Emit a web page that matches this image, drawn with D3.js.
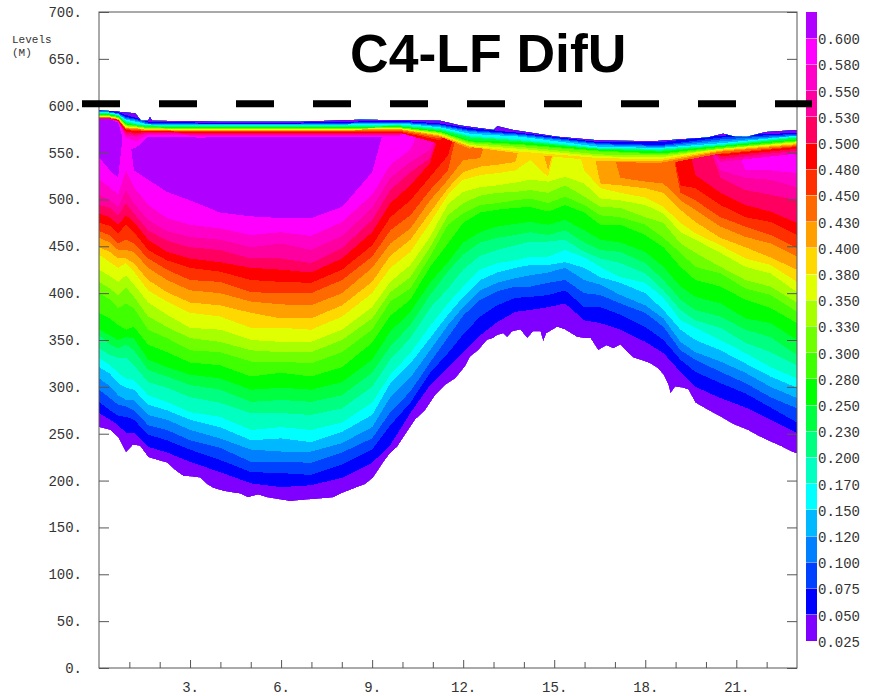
<!DOCTYPE html>
<html>
<head>
<meta charset="utf-8">
<script src="https://cdn.jsdelivr.net/npm/d3@7"></script>
<style>
body { margin: 0; background: #fff; }
text { font-family: "Liberation Mono", monospace; fill: #333; }
</style>
</head>
<body>
<div id="chart"></div>
<script>
// contour classes, lowest first
var thresholds = ["0.025","0.050","0.075","0.100","0.120","0.150","0.170","0.200","0.230","0.250","0.280","0.300",
                  "0.330","0.350","0.380","0.400","0.430","0.450","0.480","0.500","0.530","0.550","0.580","0.600"];
var bandColors = ["#8000ff","#0000ff","#0040ff","#0080ff","#00b8ff","#00ffff","#00ffc0","#00ff80","#00ff40","#00ff00","#40ff00","#70ff00",
                  "#a8ff00","#e0ff00","#ffd800","#ffa000","#ff6a00","#ff3000","#ff0000","#ff0060","#ff00a0","#ff00c8","#ff00ff","#b000ff"];
var yTicks = [0,50,100,150,200,250,300,350,400,450,500,550,600,650,700];
var xMajor = [3,6,9,12,15,18,21];
var xMinor = [1,2,4,5,7,8,10,11,13,14,16,17,19,20,22];
var refLevel = 602;

// top of the data (water surface)
var surfaceDays = [0,.53,.76,1.19,1.32,1.38,1.62,1.68,1.75,3.99,6.63,8.61,11.24,11.9,13,13.13,13.65,15.1,16.52,18.27,20.05,20.57,20.97,21.36,22,23];
var surfaceLevels = [595,594,593,592,587,584,584,588,584,583,583,585,584,579,574,578,574,567,563,562,566,570,567,567,572,574];

// bottom of the data
var edgeDays = [0,.36,.63,.89,1.12,1.35,1.62,1.91,2.24,2.51,2.77,3.07,3.33,3.56,3.76,4.09,4.42,4.65,4.91,5.24,5.54,5.9,6.3,6.63,7.02,7.39,7.72,8.04,8.28,8.51,8.77,9.03,9.2,9.36,9.59,9.83,10.09,10.42,10.75,11.08,11.41,11.74,12.07,12.23,12.5,12.79,12.99,13.12,13.32,13.45,13.62,13.88,14.11,14.31,14.54,14.64,14.74,15.1,15.36,15.76,16.02,16.19,16.45,16.72,16.95,17.18,17.41,17.61,17.9,18.16,18.4,18.6,18.76,18.83,18.99,19.22,19.42,19.65,20.08,20.48,20.9,21.37,21.7,22.02,22.45,22.88,23];
var edgeLevels = [257,254,246,230,238,237,225,222,219,211,205,204,203,196,192,189,187,186,182,185,182,180,178,179,180,181,182,187,190,193,196,203,211,219,229,236,249,265,275,291,302,309,322,332,339,350,352,355,357,353,359,361,352,359,359,348,357,364,361,353,352,352,339,344,341,345,337,331,328,325,320,313,302,293,300,299,297,283,275,268,260,254,248,243,237,230,229];

// lower limit of each class at these days
var levelDays = [0,.36,.63,.89,1.15,1.62,2.24,3,3.99,5.01,6,6.99,8.01,9,9.6,10.26,10.91,11.5,12,12.56,13.12,13.72,14.21,14.8,15.36,15.99,16.52,17.18,18,18.6,19.16,19.65,20.48,21.3,22.13,23];
var low050 = [272,265,259,251,251,236,230,220,209,197,193,195,203,219,238,272,302,321,337,355,369,380,382,385,389,371,368,361,348,336,316,300,288,278,265,251];
var low075 = [284,275,269,268,265,249,243,233,222,209,208,206,217,233,259,283,315,336,356,375,387,395,396,398,403,385,385,377,364,350,329,316,304,293,278,262];
var low100 = [297,288,281,279,275,259,254,243,235,220,220,219,230,245,273,295,326,353,376,393,402,407,407,411,414,400,398,389,379,364,339,329,316,304,289,277];
var low120 = [309,301,291,286,286,270,265,254,245,233,231,231,240,257,289,310,339,366,385,403,411,416,419,422,427,414,409,398,387,373,348,337,327,315,300,288];
var low150 = [321,314,304,299,297,281,275,265,257,243,245,241,252,270,304,325,352,377,396,414,422,427,430,430,433,427,417,411,400,382,361,350,339,325,311,299];
var low170 = [331,323,315,309,307,291,284,273,268,254,257,254,262,283,313,336,365,389,407,425,432,435,439,439,446,438,428,417,411,395,371,363,350,336,321,309];
var low200 = [341,334,331,331,323,305,299,289,283,272,272,270,277,300,329,352,384,405,425,440,446,451,455,455,457,444,437,432,421,403,382,371,363,347,337,323];
var low230 = [355,345,341,345,339,318,311,302,297,284,286,284,291,315,343,366,398,423,441,454,459,462,465,462,467,454,446,444,432,414,393,382,375,361,353,334];
var low250 = [361,355,350,353,352,329,321,313,309,297,299,297,305,329,359,380,411,433,454,465,471,474,476,473,478,467,457,454,444,428,407,396,389,373,368,350];
var low280 = [379,373,366,361,364,345,337,326,323,311,315,311,321,347,376,393,428,453,475,486,489,491,492,487,494,486,473,473,462,449,428,414,407,393,384,368];
var low300 = [400,393,384,389,384,361,352,339,337,327,327,325,337,361,391,405,439,473,485,494,496,499,501,496,503,494,483,481,473,459,443,428,421,405,398,380];
var low330 = [412,405,398,406,396,375,364,352,348,339,337,337,350,373,401,417,449,483,496,504,507,508,510,507,515,503,492,491,481,475,453,443,428,414,407,390];
var low350 = [425,418,412,419,409,390,377,363,361,350,348,348,361,385,412,430,460,495,508,513,515,518,521,519,524,517,501,499,494,485,465,457,443,428,421,401];
var low380 = [441,433,427,432,423,403,391,379,375,363,363,361,375,400,427,444,475,505,521,526,528,531,542,524,null,531,512,507,502,492,475,464,451,437,430,412];
var low400 = [449,444,437,437,432,414,401,390,387,379,373,373,387,412,440,457,486,512,529,535,537,540,null,531,null,null,517,515,512,507,489,476,459,449,438,425];
var low430 = [459,454,446,446,444,427,414,403,400,391,388,387,400,427,453,469,499,521,542,544,null,null,null,null,null,null,null,523,519,517,499,489,471,460,453,439];
var low450 = [466,462,453,457,453,437,425,414,412,401,400,400,414,439,467,483,510,531,null,null,null,null,null,null,null,null,null,null,null,null,507,499,481,471,462,448];
var low480 = [475,472,464,473,465,446,435,427,423,414,412,411,425,451,481,499,524,547,null,null,null,null,null,null,null,null,null,null,null,null,515,512,494,481,476,462];
var low500 = [485,481,473,483,476,457,444,437,433,427,425,422,437,465,496,515,539,null,null,null,null,null,null,null,null,null,null,null,null,null,null,526,507,494,487,475];
var low530 = [494,491,483,496,485,467,456,449,446,437,437,432,448,478,510,529,544,null,null,null,null,null,null,null,null,null,null,null,null,null,null,null,523,510,505,499];
var low550 = [505,499,492,510,496,478,466,460,457,449,453,446,461,491,523,540,553,null,null,null,null,null,null,null,null,null,null,null,null,null,null,null,531,523,521,513];
var low580 = [521,513,505,531,513,494,480,473,469,462,465,461,476,505,537,553,null,null,null,null,null,null,null,null,null,null,null,null,null,null,null,null,null,531,531,528];
var low600 = [545,531,523,null,531,521,508,499,486,482,480,480,492,529,null,null,null,null,null,null,null,null,null,null,null,null,null,null,null,null,null,null,null,null,null,null];

// upper limit of each class at these days (thin layers under the surface), 600 = class not there
var topDays = [0,.3,.63,.89,1.22,1.62,3.3,6.63,9.92,11.24,12.23,13.88,16.52,18.5,20.48,23];
var top050 = [595,595,593,590,587,583,582,582,584,581,576,571,561,561,568,571];
var top075 = [594,594,592,588,586,582,581,581,583,580,574,570,560,558,566,570];
var top100 = [594,594,592,587,585,581,580,580,582,579,573,569,559,557,564,569];
var top120 = [593,593,591,586,584,580,580,580,582,578,572,568,558,556,562,568];
var top150 = [593,593,591,585,583,580,579,579,581,577,570,567,556,555,560,568];
var top170 = [592,592,590,584,581,579,579,579,580,576,568,564,555,554,559,567];
var top200 = [592,592,590,583,580,579,578,578,579,575,567,563,554,553,558,566];
var top230 = [591,591,589,582,580,578,577,577,578,574,566,562,554,552,557,566];
var top250 = [591,591,589,581,579,577,577,577,578,573,563,561,553,551,557,564];
var top280 = [590,590,588,580,579,577,576,576,577,572,562,559,552,549,556,563];
var top300 = [590,590,588,580,578,576,576,576,577,572,561,558,551,548,555,562];
var top330 = [589,589,587,579,578,576,575,575,576,571,560,556,548,547,554,562];
var top350 = [589,589,587,578,577,575,575,575,576,570,558,554,546,545,554,561];
var top380 = [588,588,586,577,576,575,574,574,575,569,557,551,544,543,553,560];
var top400 = [588,588,586,576,576,574,574,574,575,568,556,549,541,541,552,559];
var top430 = [588,588,585,576,575,574,573,573,574,567,554,600,540,539,551,558];
var top450 = [587,587,585,575,574,573,573,573,573,565,600,600,600,537,549,557];
var top480 = [587,587,585,574,573,573,572,572,572,563,600,600,600,600,548,556];
var top500 = [587,587,584,572,571,572,571,571,571,559,600,600,600,600,546,554];
var top530 = [586,586,584,570,569,571,570,570,570,600,600,600,600,600,543,552];
var top550 = [586,586,583,568,567,570,569,569,569,600,600,600,600,600,540,549];
var top580 = [586,586,583,566,562,569,568,568,568,600,600,600,600,600,600,546];
var top600 = [586,586,582,553,555,567,566,567,566,600,600,600,600,600,600,600];

var lowRows = [low050,low075,low100,low120,low150,low170,low200,low230,low250,low280,low300,low330,low350,low380,low400,low430,low450,low480,low500,low530,low550,low580,low600];
var topRows = [top050,top075,top100,top120,top150,top170,top200,top230,top250,top280,top300,top330,top350,top380,top400,top430,top450,top480,top500,top530,top550,top580,top600];

var svgwidth = 876, svgheight = 696;
var margin = {"top":12,"right":797,"left":99,"bottom":668};

var svg = d3.select("#chart").append("svg")
    .attr("width", svgwidth)
    .attr("height", svgheight)
    .style("display", "block");

var x = d3.scaleLinear().domain([0, 23]).range([margin.left, margin.right]);
var y = d3.scaleLinear().domain([0, 700]).range([margin.bottom, margin.top]);

// data outline, everything else is clipped to it
var outline = surfaceDays.map(function(d, i) { return [d, surfaceLevels[i]]; })
    .concat(edgeDays.map(function(d, i) { return [d, edgeLevels[i]]; }).reverse());
var outlinePath = d3.line().x(function(d) { return x(d[0]); }).y(function(d) { return y(d[1]); });

svg.append("clipPath").attr("id", "dataClip")
    .append("path").attr("d", outlinePath(outline) + "Z");

var plot = svg.append("g").attr("clip-path", "url(#dataClip)").style("shape-rendering", "crispEdges");

plot.append("path").attr("d", outlinePath(outline) + "Z").attr("fill", bandColors[0]);

// each class from above the surface down to its lower limit
var lowArea = d3.area()
    .x(function(d) { return x(d.day); })
    .y0(y(600))
    .y1(function(d) { return y(d.level == null ? 600 : d.level); });

lowRows.forEach(function(row, k) {
    plot.append("path")
        .attr("d", lowArea(levelDays.map(function(d, i) { return {day: d, level: row[i]}; })))
        .attr("fill", bandColors[k + 1]);
});

// then the layers above each class, highest class first
var topArea = d3.area()
    .x(function(d) { return x(d.day); })
    .y0(y(620))
    .y1(function(d) { return y(d.level); });

for (var k = topRows.length - 1; k >= 0; k--) {
    var row = topRows[k];
    plot.append("path")
        .attr("d", topArea(topDays.map(function(d, i) { return {day: d, level: row[i]}; })))
        .attr("fill", bandColors[k]);
}

// axes
var frameColor = "#555";
svg.append("rect")
    .attr("x", margin.left).attr("y", margin.top)
    .attr("width", margin.right - margin.left).attr("height", margin.bottom - margin.top)
    .attr("fill", "none").attr("stroke", frameColor);

var yAxis = d3.axisLeft(y).tickValues(yTicks).tickFormat(function(d) { return d + "."; })
    .tickSizeInner(-10).tickSizeOuter(0).tickPadding(17);
var gy = svg.append("g").attr("transform", "translate(" + margin.left + ",0)").call(yAxis);
gy.select(".domain").remove();
gy.selectAll("line").attr("stroke", frameColor);
gy.selectAll("text").style("font-size", "14px");

var yAxisR = d3.axisRight(y).tickValues(yTicks).tickFormat("").tickSizeInner(-10).tickSizeOuter(0);
var gyr = svg.append("g").attr("transform", "translate(" + margin.right + ",0)").call(yAxisR);
gyr.select(".domain").remove();
gyr.selectAll("line").attr("stroke", frameColor);

var xAxis = d3.axisBottom(x).tickValues(xMajor).tickFormat(function(d) { return d + "."; })
    .tickSizeInner(-8).tickSizeOuter(0).tickPadding(14);
var gx = svg.append("g").attr("transform", "translate(0," + margin.bottom + ")").call(xAxis);
gx.select(".domain").remove();
gx.selectAll("line").attr("stroke", frameColor);
gx.selectAll("text").style("font-size", "14px");

var xAxisMinor = d3.axisBottom(x).tickValues(xMinor).tickFormat("").tickSizeInner(-6).tickSizeOuter(0);
var gxm = svg.append("g").attr("transform", "translate(0," + margin.bottom + ")").call(xAxisMinor);
gxm.select(".domain").remove();
gxm.selectAll("line").attr("stroke", frameColor);

svg.append("text").attr("x", 12).attr("y", 43).style("font-size", "11px").text("Levels");
svg.append("text").attr("x", 12).attr("y", 56).style("font-size", "11px").text("(M)");

// colour bar
var barTop = margin.top, barStep = 26.2;
var barY = d3.scaleLinear().domain([0, thresholds.length]).range([barTop + barStep * thresholds.length, barTop]);
var bar = svg.append("g").style("shape-rendering", "crispEdges");
bar.selectAll("rect").data(thresholds).enter().append("rect")
    .attr("x", 806).attr("width", 11)
    .attr("y", function(d, i) { return barY(i + 1); })
    .attr("height", barStep)
    .attr("fill", function(d, i) { return bandColors[i]; });
bar.selectAll("line").data(thresholds.slice(1)).enter().append("line")
    .attr("x1", 806).attr("x2", 817)
    .attr("y1", function(d, i) { return barY(i + 1); })
    .attr("y2", function(d, i) { return barY(i + 1); })
    .attr("stroke", "#fff").attr("stroke-opacity", 0.45);
svg.selectAll(".barlabel").data(thresholds).enter().append("text")
    .attr("class", "barlabel")
    .attr("x", 818)
    .attr("y", function(d, i) { return barY(i) + 1; })
    .attr("dy", "0.35em")
    .style("font-size", "14px")
    .text(function(d) { return d; });

// reference line and title
svg.append("line")
    .attr("x1", 82).attr("x2", 812)
    .attr("y1", y(refLevel)).attr("y2", y(refLevel))
    .attr("stroke", "#000").attr("stroke-width", 7)
    .attr("stroke-dasharray", "38,39");

svg.append("text")
    .attr("x", 350).attr("y", 72)
    .style("font-family", '"Liberation Sans", Arial, sans-serif')
    .style("font-weight", "bold")
    .style("font-size", "53.5px")
    .style("fill", "#000")
    .text("C4-LF DifU");
</script>
</body>
</html>
